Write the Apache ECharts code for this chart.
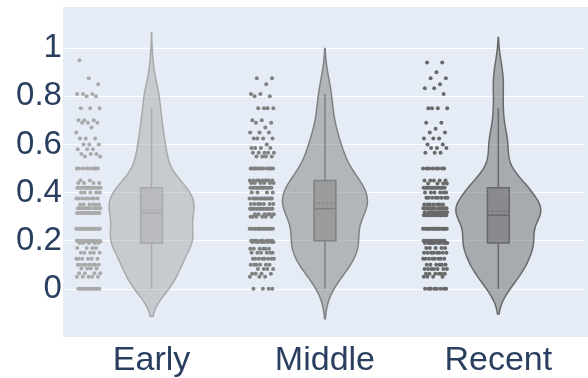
<!DOCTYPE html>
<html>
<head>
<meta charset="utf-8">
<script src="https://cdn.jsdelivr.net/npm/echarts@6/dist/echarts.min.js"></script>
<style>
  html, body { margin: 0; padding: 0; background: #ffffff; }
  #chart { width: 588px; height: 378px; }
</style>
</head>
<body>
<div id="chart"></div>
<script>
// Share values per period: distinct observed values and how many times each occurs
const categories = ['Early', 'Middle', 'Recent'];

const earlyValues = [0, 0.05, 0.065, 0.085, 0.1, 0.125, 0.15, 0.17, 0.19, 0.197, 0.2, 0.25,
  0.315, 0.335, 0.35, 0.375, 0.4, 0.42, 0.44, 0.45, 0.5,
  0.55, 0.56, 0.58, 0.6, 0.625, 0.65, 0.67, 0.69, 0.7, 0.75, 0.8, 0.81, 0.85, 0.875, 0.95];
const earlyCounts = [12, 5, 4, 4, 8, 6, 5, 4, 5, 6, 11, 20,
  13, 12, 6, 8, 5, 14, 4, 2, 9,
  2, 3, 3, 3, 3, 1, 1, 3, 3, 3, 2, 3, 1, 1, 1];

const middleValues = [0, 0.05, 0.063, 0.083, 0.1, 0.125, 0.15, 0.167, 0.195, 0.2, 0.25,
  0.3, 0.31, 0.333, 0.353, 0.375, 0.4, 0.42, 0.44, 0.45, 0.5,
  0.55, 0.565, 0.585, 0.6, 0.625, 0.65, 0.67, 0.69, 0.7, 0.75, 0.8, 0.81, 0.85, 0.875];
const middleCounts = [4, 3, 4, 4, 6, 8, 6, 6, 8, 10, 14,
  6, 6, 16, 7, 12, 4, 12, 6, 9, 12,
  4, 5, 4, 1, 4, 3, 1, 2, 2, 4, 2, 2, 1, 2];

const recentValues = [0, 0.05, 0.063, 0.083, 0.1, 0.125, 0.15, 0.17, 0.19, 0.2, 0.25,
  0.306, 0.318, 0.335, 0.35, 0.378, 0.4, 0.42, 0.438, 0.45, 0.5,
  0.565, 0.585, 0.6, 0.625, 0.65, 0.665, 0.69, 0.75, 0.81, 0.833, 0.85, 0.875, 0.9, 0.94];
const recentCounts = [8, 4, 6, 7, 6, 8, 8, 5, 10, 12, 18,
  14, 12, 12, 7, 8, 6, 12, 4, 5, 8,
  3, 3, 2, 3, 2, 1, 2, 4, 1, 2, 1, 2, 1, 2];

// Kernel bandwidth of each violin
const bandwidths = [0.057, 0.062, 0.052];

const yTicks = [0, 0.2, 0.4, 0.6, 0.8, 1];

// ---- drawing constants ----
const lineColors = ['#a9a9a9', '#808080', '#696969'];
const fillColors = ['rgba(169,169,169,0.5)', 'rgba(128,128,128,0.5)', 'rgba(105,105,105,0.5)'];
const textColor = '#2a3f5f';
const plotBg = '#E5ECF6';
const violinHalf = 0.245;   // x-axis units
const boxHalf = 0.063;
const pointOffset = -0.3645;
const jitterHalf = 0.071;

function expand(values, counts) {
  const out = [];
  values.forEach((v, i) => { for (let k = 0; k < counts[i]; k++) out.push(v); });
  return out;
}
const groups = [
  expand(earlyValues, earlyCounts),
  expand(middleValues, middleCounts),
  expand(recentValues, recentCounts)
];

function quantile(sorted, p) {
  const pos = (sorted.length - 1) * p;
  const lo = Math.floor(pos), hi = Math.ceil(pos);
  return sorted[lo] + (sorted[hi] - sorted[lo]) * (pos - lo);
}

function stats(arr, bw) {
  const s = arr.slice().sort((a, b) => a - b);
  const n = s.length;
  const mean = s.reduce((a, b) => a + b, 0) / n;
  const q1 = quantile(s, 0.25), med = quantile(s, 0.5), q3 = quantile(s, 0.75);
  const iqr = q3 - q1;
  const hiFence = q3 + 1.5 * iqr, loFence = q1 - 1.5 * iqr;
  const upper = Math.max(...s.filter(v => v <= hiFence));
  const lower = Math.min(...s.filter(v => v >= loFence));
  return { s, n, mean, q1, med, q3, upper, lower, bw, min: s[0], max: s[n - 1] };
}

// Gaussian kernel density outline, scaled so the widest point spans violinHalf
function violinOutline(st, center) {
  const steps = 160;
  const y0 = st.min - 2 * st.bw, y1 = st.max + 2 * st.bw;
  const ys = [], ds = [];
  for (let i = 0; i <= steps; i++) {
    const y = y0 + (y1 - y0) * i / steps;
    let d = 0;
    for (const v of st.s) { const z = (y - v) / st.bw; d += Math.exp(-0.5 * z * z); }
    ys.push(y); ds.push(d);
  }
  const dmax = Math.max(...ds);
  const right = ys.map((y, i) => [center + violinHalf * ds[i] / dmax, y]);
  const left = ys.map((y, i) => [center - violinHalf * ds[i] / dmax, y]).reverse();
  return right.concat(left);
}

const allStats = groups.map((g, i) => stats(g, bandwidths[i]));
const centers = [0.5, 1.5, 2.5];

const violinSeries = {
  type: 'custom',
  z: 2,
  silent: true,
  data: categories.map((c, i) => [centers[i], i]),
  renderItem: function (params, api) {
    const i = params.dataIndex;
    const poly = violinOutline(allStats[i], centers[i]).map(p => api.coord(p));
    return {
      type: 'polygon',
      shape: { points: poly },
      style: { fill: fillColors[i], stroke: lineColors[i], lineWidth: 1.5 }
    };
  }
};

const boxSeries = {
  type: 'custom',
  z: 3,
  silent: true,
  data: categories.map((c, i) => [centers[i], i]),
  renderItem: function (params, api) {
    const i = params.dataIndex;
    const st = allStats[i];
    const cx = centers[i];
    const tl = api.coord([cx - boxHalf, st.q3]);
    const br = api.coord([cx + boxHalf, st.q1]);
    const top = api.coord([cx, st.upper]);
    const bot = api.coord([cx, st.lower]);
    const medL = api.coord([cx - boxHalf, st.med]), medR = api.coord([cx + boxHalf, st.med]);
    const mL = api.coord([cx - boxHalf, st.mean]), mR = api.coord([cx + boxHalf, st.mean]);
    const lineStyle = { stroke: lineColors[i], lineWidth: 1.5 };
    return {
      type: 'group',
      children: [
        { type: 'line', shape: { x1: top[0], y1: top[1], x2: top[0], y2: tl[1] }, style: lineStyle },
        { type: 'line', shape: { x1: bot[0], y1: br[1], x2: bot[0], y2: bot[1] }, style: lineStyle },
        { type: 'rect', shape: { x: tl[0], y: tl[1], width: br[0] - tl[0], height: br[1] - tl[1] },
          style: { fill: fillColors[i], stroke: lineColors[i], lineWidth: 1.5 } },
        { type: 'line', shape: { x1: medL[0], y1: medL[1], x2: medR[0], y2: medR[1] }, style: lineStyle },
        { type: 'line', shape: { x1: mL[0], y1: mL[1], x2: mR[0], y2: mR[1] },
          style: { stroke: lineColors[i], lineWidth: 1.2, lineDash: [2, 2] } }
      ]
    };
  }
};

// Points sit to the left of each violin, spread with a golden-ratio sequence
const pointSeries = groups.map((arr, g) => ({
  type: 'scatter',
  z: 4,
  silent: true,
  symbol: 'circle',
  symbolSize: 4,
  itemStyle: { color: lineColors[g], opacity: 1 },
  data: arr.map((v, k) => {
    const f = ((k + 1) * 0.6180339887 + g * 0.31) % 1;
    return [centers[g] + pointOffset + (f - 0.5) * 2 * jitterHalf, v];
  })
}));

const chart = echarts.init(document.getElementById('chart'), null, { renderer: 'canvas' });
const labelFont = "'Liberation Sans', Arial, sans-serif";

chart.setOption({
  animation: false,
  backgroundColor: '#ffffff',
  graphic: {
    elements: [{
      type: 'rect', z: -10, silent: true,
      shape: { x: 63, y: 7, width: 525, height: 330 },
      style: { fill: plotBg }
    }]
  },
  grid: { left: 64.9, width: 526.8, top: -9.8, height: 348.6, containLabel: false },
  xAxis: {
    type: 'value', min: 0, max: 3, interval: 0.5,
    axisLine: { show: false }, axisTick: { show: false }, splitLine: { show: false },
    axisLabel: {
      margin: 7, fontSize: 34, color: textColor, fontFamily: labelFont,
      formatter: v => {
        const idx = centers.findIndex(c => Math.abs(c - v) < 1e-6);
        return idx >= 0 ? categories[idx] : '';
      }
    }
  },
  yAxis: {
    type: 'value', min: -0.2, max: 1.2, interval: 0.2,
    axisLine: { show: false }, axisTick: { show: false },
    splitLine: { show: true, lineStyle: { color: '#ffffff', width: 1 } },
    axisLabel: {
      margin: 3, fontSize: 33, color: textColor, fontFamily: labelFont,
      formatter: v => {
        const t = yTicks.find(x => Math.abs(x - v) < 1e-6);
        return t === undefined ? '' : String(t);
      }
    }
  },
  series: [violinSeries, boxSeries].concat(pointSeries)
});
</script>
</body>
</html>
